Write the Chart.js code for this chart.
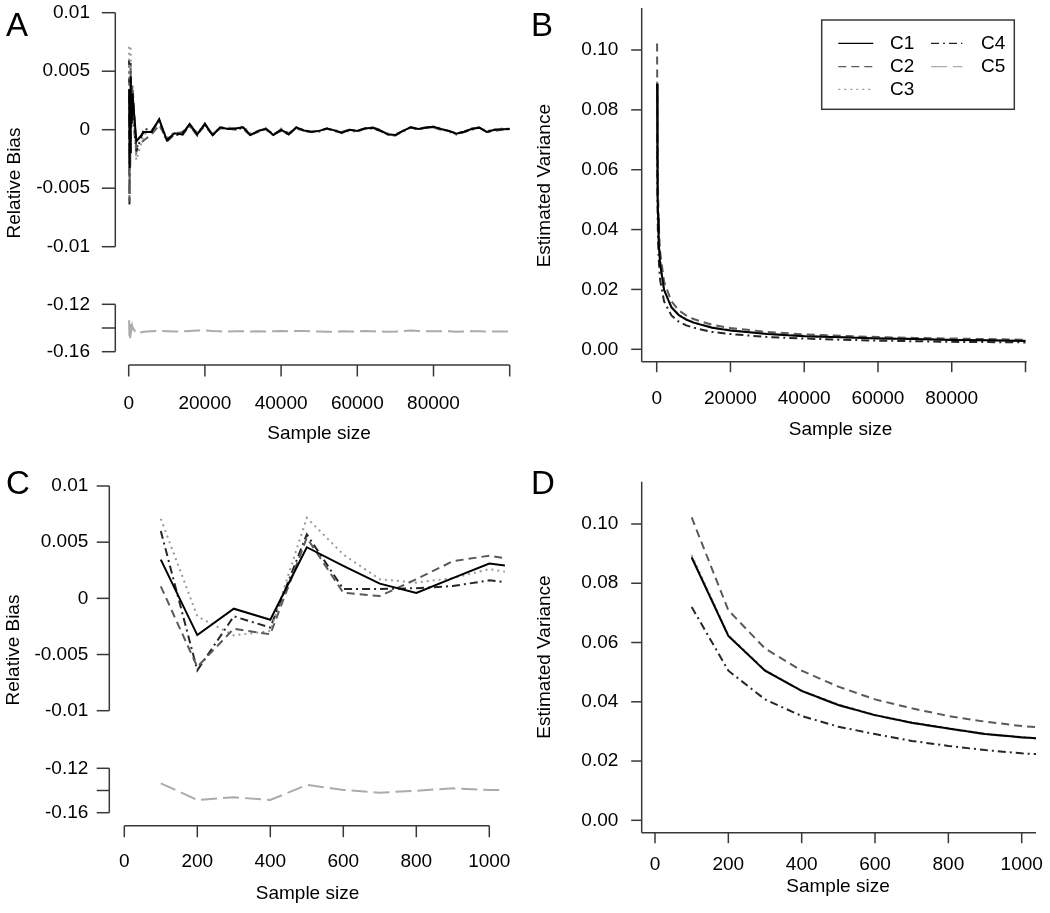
<!DOCTYPE html>
<html>
<head>
<meta charset="utf-8">
<script src="https://cdn.jsdelivr.net/npm/chart.js@4"></script>
<style>
body { margin: 0; background: #fff; }
#wrap { position: relative; width: 1050px; height: 913px; background: #fff; }
#wrap canvas { position: absolute; }
</style>
</head>
<body>
<div id="wrap">
  <canvas id="panelA" width="525" height="456" style="left:0px;top:0px"></canvas>
  <canvas id="panelB" width="525" height="456" style="left:525px;top:0px"></canvas>
  <canvas id="panelC" width="525" height="456" style="left:0px;top:457px"></canvas>
  <canvas id="panelD" width="525" height="456" style="left:525px;top:457px"></canvas>
</div>
<script>
// sample sizes used for the relative bias curves
const sampleSize = [100,200,300,400,500,600,700,800,900,1000,
  2000,4000,6000,8000,10000,12000,14000,16000,18000,20000,
  22000,24000,26000,28000,30000,32000,34000,36000,38000,40000,
  42000,44000,46000,48000,50000,52000,54000,56000,58000,60000,
  62000,64000,66000,68000,70000,72000,74000,76000,78000,80000,
  82000,84000,86000,88000,90000,92000,94000,96000,98000,100000];

const biasC1 = [0.00345,-0.00327,-0.00092,-0.0019,0.00455,0.0029,0.00131,0.00048,0.0018,0.0031,
  -0.0010,-0.0002,-0.0002,0.0009,-0.0009,-0.0003,-0.0004,0.0005,-0.0004,0.0005,
  -0.00046,0.0002,0.00006,0.0001,0.0002,-0.00046,-0.0001,0.00006,-0.00046,0,
  -0.0004,0.0002,-0.00006,-0.00017,-0.0001,0.0001,-0.00006,-0.00026,0,-0.0001,
  0.0001,0.00017,-0.00006,-0.0004,-0.00046,-0.0001,0.0002,0.00006,0.00017,0.00026,
  0.00006,-0.0001,-0.00034,-0.00017,0.00006,0.00017,-0.0002,0,0.00003,0.00006];
const biasC2 = [0.00107,-0.0061,-0.0027,-0.0032,0.0054,0.0005,0.0002,0.0017,0.0033,0.0038,
  -0.0015,-0.0009,-0.0004,0.0004,-0.0008,-0.0004,-0.0002,0.0003,-0.0003,0.0003,
  -0.0004,0.0001,0.0001,0.0000,0.0002,-0.0004,-0.0002,0.0001,-0.0004,0.0000,
  -0.0003,0.0001,-0.0001,-0.0002,-0.0001,0.0001,-0.0001,-0.0003,0.0000,-0.0001,
  0.0001,0.0002,0.0000,-0.0004,-0.0004,-0.0001,0.0002,0.0001,0.0002,0.0002,
  0.0000,-0.0001,-0.0003,-0.0002,0.0001,0.0002,-0.0002,-0.0001,0.0000,0.0001];
const biasC3 = [0.00708,-0.0016,-0.0033,-0.0029,0.00717,0.0039,0.0017,0.0014,0.0018,0.0026,
  -0.0026,-0.0004,-0.0001,0.0006,-0.0007,-0.0002,-0.0003,0.0004,-0.0002,0.0004,
  -0.0003,0.0001,0.0002,0.0001,0.0003,-0.0003,-0.0001,0.0000,-0.0005,0.0001,
  -0.0003,0.0002,0.0000,-0.0002,-0.0002,0.0001,0.0000,-0.0002,-0.0001,-0.0002,
  0.0001,0.0002,-0.0001,-0.0003,-0.0005,-0.0002,0.0002,0.0001,0.0001,0.0003,
  0.0001,-0.0002,-0.0004,-0.0001,0.0000,0.0002,-0.0001,0.0000,0.0001,0.0000];
const biasC4 = [0.0060,-0.0064,-0.0016,-0.0026,0.0057,0.00083,0.00083,0.0009,0.0011,0.0016,
  -0.0019,0.0001,-0.0001,0.0008,-0.0010,-0.0004,-0.0005,0.0004,-0.0005,0.0005,
  -0.0005,0.0002,0.0001,0.0001,0.0001,-0.0005,-0.0001,0.0001,-0.0004,-0.0001,
  -0.0004,0.0002,-0.0001,-0.0002,-0.0001,0.0001,-0.0001,-0.0002,0.0000,-0.0001,
  0.0001,0.0001,-0.0001,-0.0004,-0.0005,-0.0001,0.0002,0.0000,0.0002,0.0002,
  0.0000,-0.0001,-0.0004,-0.0002,0.0000,0.0002,-0.0002,0.0000,0.0000,0.0001];
const biasC5 = [-0.1335,-0.1486,-0.1461,-0.1486,-0.1350,-0.1395,-0.1420,-0.1402,-0.1380,-0.1395,
  -0.1445,-0.1432,-0.1428,-0.1425,-0.1428,-0.1430,-0.1428,-0.1425,-0.1422,-0.1420,
  -0.1425,-0.1428,-0.1430,-0.1428,-0.1428,-0.1430,-0.1428,-0.1430,-0.1427,-0.1426,
  -0.1428,-0.1426,-0.1425,-0.1428,-0.1430,-0.1432,-0.1430,-0.1428,-0.1430,-0.1428,
  -0.1426,-0.1428,-0.1430,-0.1431,-0.1430,-0.1426,-0.1422,-0.1425,-0.1428,-0.1427,
  -0.1428,-0.1428,-0.1432,-0.1430,-0.1428,-0.1428,-0.1430,-0.1430,-0.1429,-0.1429];

// sample sizes used for the variance curves
const varSize = [100,200,300,400,500,600,700,800,900,1000,
  2000,4000,6000,8000,10000,15000,20000,30000,40000,50000,60000,70000,80000,90000,100000];

const varC1 = [0.0887,0.0622,0.0505,0.0437,0.0389,0.0355,0.0329,0.0310,0.0291,0.0280,
  0.0198,0.0140,0.0114,0.0099,0.0089,0.0072,0.0063,0.0051,0.0044,0.0040,0.0036,0.0034,0.0031,0.0030,0.0028];
const varC2 = [0.1022,0.0709,0.0580,0.0505,0.0451,0.0408,0.0378,0.0352,0.0333,0.0318,
  0.0226,0.0160,0.0130,0.0113,0.0101,0.0082,0.0071,0.0058,0.0050,0.0045,0.0041,0.0038,0.0036,0.0034,0.0032];
const varC3 = [0.0895,0.0625,0.0507,0.0438,0.0391,0.0356,0.0331,0.0311,0.0292,0.0281,
  0.0199,0.0141,0.0115,0.0100,0.0090,0.0073,0.0063,0.0052,0.0045,0.0040,0.0037,0.0034,0.0032,0.0030,0.0028];
const varC4 = [0.0720,0.0505,0.0408,0.0352,0.0316,0.0291,0.0268,0.0251,0.0237,0.0226,
  0.0160,0.0113,0.0092,0.0080,0.0072,0.0058,0.0051,0.0041,0.0036,0.0032,0.0029,0.0027,0.0025,0.0024,0.0023];
const varC5 = [0.0890,0.0623,0.0506,0.0436,0.0388,0.0354,0.0328,0.0309,0.0290,0.0279,
  0.0200,0.0142,0.0116,0.0101,0.0090,0.0074,0.0064,0.0052,0.0045,0.0041,0.0037,0.0035,0.0032,0.0030,0.0029];

const seriesNames = ['C1', 'C2', 'C3', 'C4', 'C5'];
const lineColors = ['#000000', '#5a5a5a', '#999999', '#262626', '#ababab'];
const lineDashes = [[], [8, 5], [2, 4], [8, 4, 2, 4], [16, 6]];

const bigTicks = [0, 20000, 40000, 60000, 80000, 100000];
const bigLabels = ['0', '20000', '40000', '60000', '80000', ''];
const smallTicks = [0, 200, 400, 600, 800, 1000];
const smallLabels = ['0', '200', '400', '600', '800', '1000'];
const biasTicks = [0.01, 0.005, 0, -0.005, -0.01];
const biasLabels = ['0.01', '0.005', '0', '-0.005', '-0.01'];
const lowTicks = [-0.12, -0.14, -0.16];
const lowLabels = ['-0.12', '', '-0.16'];
const varTicks = [0, 0.02, 0.04, 0.06, 0.08, 0.10];
const varLabels = ['0.00', '0.02', '0.04', '0.06', '0.08', '0.10'];

const FONT = '"Liberation Sans", Arial, Helvetica, sans-serif';
const W = 525, H = 456;

function pts(xs, ys) {
  return xs.map((x, i) => ({ x: x, y: ys[i] }));
}

// scale bounds so that v1 lands on pixel p1 and v2 on pixel p2
function fitRange(v1, p1, v2, p2, lo, hi) {
  const k = (p2 - p1) / (v2 - v1);
  return { min: v1 + (lo - p1) / k, max: v1 + (hi - p1) / k };
}

function makeSets(xs, arrays, lowerIdx) {
  return arrays.map((arr, i) => ({
    label: seriesNames[i],
    data: pts(xs, arr),
    borderColor: lineColors[i],
    borderDash: lineDashes[i],
    borderWidth: 2,
    pointRadius: 0,
    tension: 0,
    clip: 0,
    fill: false,
    yAxisID: i === lowerIdx ? 'y2' : 'y'
  }));
}

// draws R style axes, titles, panel letter and legend
function rAxes(cfg) {
  return {
    id: 'rAxes',
    afterDraw(chart) {
      const ctx = chart.ctx, a = chart.chartArea, xs = chart.scales.x;
      const line = (x1, y1, x2, y2) => { ctx.beginPath(); ctx.moveTo(x1, y1); ctx.lineTo(x2, y2); ctx.stroke(); };
      ctx.save();
      ctx.strokeStyle = '#383838';
      ctx.fillStyle = '#000';
      ctx.lineWidth = 1.5;
      ctx.font = '19px ' + FONT;

      if (cfg.lbox) {
        line(a.left, a.top, a.left, a.bottom);
        line(a.left, a.bottom, cfg.boxRight, a.bottom);
      }

      const X = cfg.x;
      const xp = X.ticks.map(v => xs.getPixelForValue(v));
      if (!cfg.lbox) line(xp[0], X.line, xp[xp.length - 1], X.line);
      ctx.textAlign = 'center';
      ctx.textBaseline = 'middle';
      xp.forEach((p, i) => {
        line(p, X.line, p, X.line + X.len);
        if (X.labels[i]) ctx.fillText(X.labels[i], p, X.labelY);
      });
      ctx.fillText(X.title, X.titleX, X.titleY);

      cfg.y.forEach(Y => {
        const s = chart.scales[Y.id];
        const yp = Y.ticks.map(v => s.getPixelForValue(v));
        if (!cfg.lbox) line(a.left, yp[0], a.left, yp[yp.length - 1]);
        ctx.textAlign = 'right';
        yp.forEach((p, i) => {
          line(a.left - Y.len, p, a.left, p);
          if (Y.labels[i]) ctx.fillText(Y.labels[i], Y.labelX, p);
        });
      });

      ctx.save();
      ctx.translate(cfg.yTitle.x, cfg.yTitle.y);
      ctx.rotate(-Math.PI / 2);
      ctx.textAlign = 'center';
      ctx.fillText(cfg.yTitle.text, 0, 0);
      ctx.restore();

      if (cfg.legend) {
        const L = cfg.legend;
        ctx.strokeRect(L.left, L.top, L.right - L.left, L.bottom - L.top);
        ctx.textAlign = 'left';
        chart.data.datasets.forEach((ds, i) => {
          const col = i < 3 ? 0 : 1;
          const row = i < 3 ? i : i - 3;
          const y = L.rows[row];
          ctx.save();
          ctx.strokeStyle = ds.borderColor;
          ctx.lineWidth = 1.3;
          ctx.setLineDash(ds.borderDash);
          line(L.lineFrom[col], y, L.lineTo[col], y);
          ctx.restore();
          ctx.fillText(ds.label, L.textX[col], y);
        });
      }

      ctx.font = '33px ' + FONT;
      ctx.textAlign = 'left';
      ctx.textBaseline = 'alphabetic';
      ctx.fillText(cfg.letter, 6, cfg.letterY);
      ctx.restore();
    }
  };
}

function makeChart(id, sets, area, scales, cfg) {
  return new Chart(document.getElementById(id), {
    type: 'line',
    data: { datasets: sets },
    options: {
      responsive: false,
      animation: false,
      events: [],
      layout: { padding: { left: area.left, right: W - area.right, top: area.top, bottom: H - area.bottom } },
      plugins: { legend: { display: false }, tooltip: { enabled: false } },
      scales: scales
    },
    plugins: [rAxes(cfg)]
  });
}

function linScale(r) {
  return { type: 'linear', display: false, min: r.min, max: r.max };
}

const biasArrays = [biasC1, biasC2, biasC3, biasC4, biasC5];
const varArrays = [varC1, varC2, varC3, varC4, varC5];

// Panel A
const areaA = { left: 115.3, right: 525, top: 5, bottom: 360 };
makeChart('panelA', makeSets(sampleSize, biasArrays, 4), areaA, {
  x: linScale(fitRange(0, 128.7, 100000, 509.7, areaA.left, areaA.right)),
  y: linScale(fitRange(0.01, 12.7, -0.01, 246.7, areaA.bottom, areaA.top)),
  y2: linScale(fitRange(-0.12, 304.3, -0.16, 351.7, areaA.bottom, areaA.top))
}, {
  x: { ticks: bigTicks, labels: bigLabels, line: 365, len: 11.5, labelY: 403.5, title: 'Sample size', titleX: 319, titleY: 434 },
  y: [
    { id: 'y', ticks: biasTicks, labels: biasLabels, len: 13.5, labelX: 90 },
    { id: 'y2', ticks: lowTicks, labels: lowLabels, len: 13.5, labelX: 90 }
  ],
  yTitle: { text: 'Relative Bias', x: 15, y: 183 },
  letter: 'A', letterY: 35.5
});

// Panel B
const areaB = { left: 116.7, right: 515, top: 8, bottom: 361.7 };
makeChart('panelB', makeSets(varSize, varArrays, -1), areaB, {
  x: linScale(fitRange(0, 131.7, 100000, 500.5, areaB.left, areaB.right)),
  y: linScale(fitRange(0.10, 50, 0.00, 349.3, areaB.bottom, areaB.top))
}, {
  lbox: true, boxRight: 501.7,
  x: { ticks: bigTicks, labels: bigLabels, line: 361.7, len: 10.5, labelY: 398.8, title: 'Sample size', titleX: 315.5, titleY: 430 },
  y: [{ id: 'y', ticks: varTicks, labels: varLabels, len: 10.5, labelX: 93.3 }],
  yTitle: { text: 'Estimated Variance', x: 19.5, y: 185.7 },
  letter: 'B', letterY: 35.5,
  legend: { left: 296.7, top: 20, right: 489.3, bottom: 109.3, rows: [43.3, 66.7, 89.3],
    lineFrom: [313.3, 406], lineTo: [348.3, 437.3], textX: [365, 456] }
});

// Panel C
const areaC = { left: 109.3, right: 504.9, top: 20, bottom: 360 };
makeChart('panelC', makeSets(sampleSize, biasArrays, 4), areaC, {
  x: linScale(fitRange(0, 124.3, 1000, 489.3, areaC.left, areaC.right)),
  y: linScale(fitRange(0.01, 29, -0.01, 253.7, areaC.bottom, areaC.top)),
  y2: linScale(fitRange(-0.12, 311.3, -0.16, 355.7, areaC.bottom, areaC.top))
}, {
  x: { ticks: smallTicks, labels: smallLabels, line: 368.7, len: 11.5, labelY: 405, title: 'Sample size', titleX: 307.5, titleY: 437 },
  y: [
    { id: 'y', ticks: biasTicks, labels: biasLabels, len: 12.6, labelX: 88.3 },
    { id: 'y2', ticks: lowTicks, labels: lowLabels, len: 12.6, labelX: 88.3 }
  ],
  yTitle: { text: 'Relative Bias', x: 14, y: 193 },
  letter: 'C', letterY: 36.5
});

// Panel D
const areaD = { left: 116.7, right: 511, top: 24.7, bottom: 375.7 };
makeChart('panelD', makeSets(varSize, varArrays, -1), areaD, {
  x: linScale(fitRange(0, 130, 1000, 496.7, areaD.left, areaD.right)),
  y: linScale(fitRange(0.10, 67, 0.00, 363.3, areaD.bottom, areaD.top))
}, {
  lbox: true, boxRight: 511,
  x: { ticks: smallTicks, labels: smallLabels, line: 375.7, len: 10.5, labelY: 408, title: 'Sample size', titleX: 313, titleY: 430 },
  y: [{ id: 'y', ticks: varTicks, labels: varLabels, len: 10.5, labelX: 93.3 }],
  yTitle: { text: 'Estimated Variance', x: 19.5, y: 200 },
  letter: 'D', letterY: 36.5
});
</script>
</body>
</html>
